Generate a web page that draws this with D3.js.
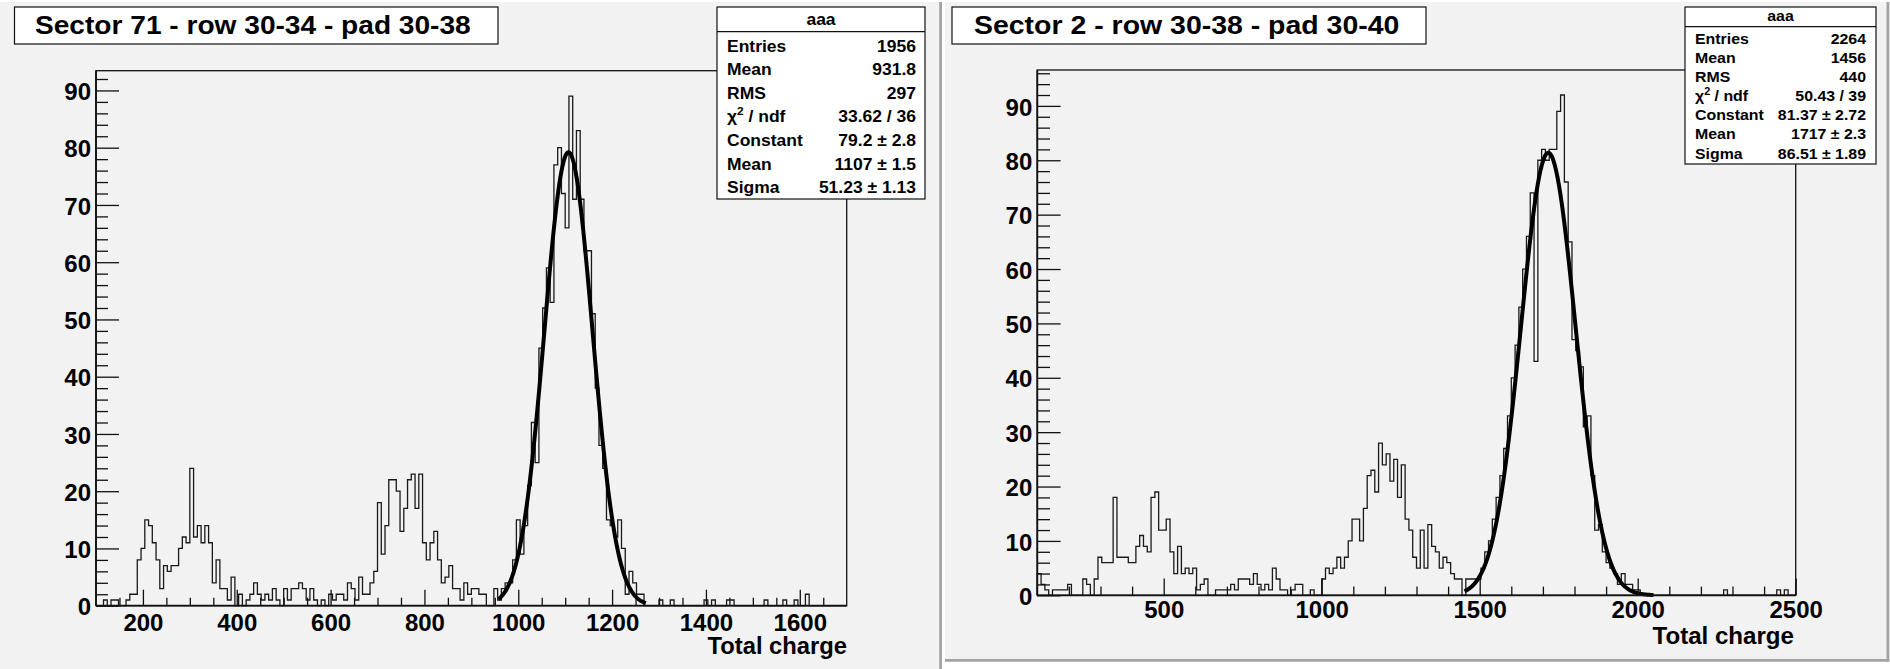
<!DOCTYPE html>
<html>
<head>
<meta charset="utf-8">
<script src="https://cdn.jsdelivr.net/npm/d3@7/dist/d3.min.js"></script>
<style>
  html, body { margin: 0; padding: 0; background: #ffffff; }
  svg { display: block; }
  text { font-family: "Liberation Sans", Arial, Helvetica, sans-serif; font-weight: bold; fill: #000; }
</style>
</head>
<body>
<svg id="canvas" width="1890" height="669"></svg>
<script>
// ---------------- data ----------------
const leftTitle = "Sector 71 - row 30-34 - pad 30-38";
const rightTitle = "Sector 2 - row 30-38 - pad 30-40";
const xAxisTitle = "Total charge";
const statsName = "aaa";

// histogram ranges (low edge, high edge) and bin counts
const leftRange = [100, 1700];   // 200 bins of 8
const rightRange = [100, 2500];  // 200 bins of 12

const leftCounts = [
  0, 0, 1, 0, 1, 1, 0, 0, 1, 2,
  2, 8, 10, 15, 14, 11, 8, 3, 7, 6,
  7, 7, 10, 12, 11, 24, 12, 14, 11, 14,
  11, 4, 8, 3, 3, 1, 5, 0, 2, 0,
  1, 2, 4, 2, 1, 2, 1, 3, 1, 0,
  3, 1, 3, 3, 4, 3, 1, 3, 1, 0,
  1, 0, 2, 1, 2, 2, 1, 4, 3, 1,
  5, 2, 2, 4, 6, 18, 9, 14, 22, 22,
  20, 13, 17, 22, 23, 17, 23, 11, 8, 11,
  13, 8, 4, 5, 7, 3, 3, 1, 4, 2,
  3, 3, 2, 2, 0, 0, 3, 1, 3, 4,
  4, 8, 15, 9, 14, 21, 32, 25, 45, 52,
  59, 53, 77, 80, 72, 66, 89, 71, 83, 71,
  62, 62, 51, 38, 28, 24, 15, 14, 12, 15,
  10, 2, 6, 4, 2, 2, 0, 0, 0, 0,
  1, 0, 0, 1, 0, 0, 0, 0, 0, 0,
  0, 0, 1, 0, 1, 0, 0, 0, 1, 1,
  0, 0, 0, 0, 0, 0, 0, 0, 1, 0,
  0, 0, 0, 1, 0, 0, 1, 0, 0, 2,
  0, 0, 0, 0, 0, 0, 0, 0, 0, 0
];

const rightCounts = [
  4, 2, 1, 0, 1, 1, 1, 1, 2, 0,
  0, 0, 3, 2, 0, 3, 7, 6, 6, 6,
  18, 7, 7, 7, 6, 6, 9, 11, 9, 8,
  18, 19, 12, 12, 14, 8, 4, 9, 4, 5,
  4, 5, 1, 2, 3, 0, 0, 1, 1, 1,
  1, 2, 1, 3, 3, 3, 2, 4, 2, 1,
  2, 1, 5, 3, 1, 1, 0, 1, 2, 2,
  0, 0, 1, 0, 0, 3, 5, 4, 5, 7,
  5, 7, 10, 14, 14, 10, 16, 22, 23, 19,
  28, 24, 26, 21, 25, 18, 24, 14, 12, 7,
  5, 12, 5, 13, 9, 8, 5, 7, 6, 4,
  3, 3, 0, 3, 3, 3, 3, 5, 8, 10,
  14, 18, 22, 27, 33, 40, 46, 53, 60, 66,
  74, 43, 80, 82, 80, 82, 82, 89, 92, 76,
  65, 47, 45, 42, 31, 33, 22, 12, 13, 8,
  6, 5, 4, 2, 4, 2, 2, 1, 1, 0,
  0, 0, 0, 0, 0, 0, 0, 0, 0, 0,
  0, 0, 0, 0, 0, 0, 0, 0, 0, 0,
  0, 1, 0, 0, 0, 0, 0, 0, 0, 0,
  0, 0, 0, 0, 0, 1, 0, 1, 0, 0
];

// axis tick values
const leftXMajor = [200, 400, 600, 800, 1000, 1200, 1400, 1600];
const rightXMajor = [500, 1000, 1500, 2000, 2500];
const yMajor = [0, 10, 20, 30, 40, 50, 60, 70, 80, 90];

// statistics box
const statLabels = ["Entries", "Mean", "RMS", "chi2", "Constant", "Mean", "Sigma"];
const leftStatValues = ["1956", "931.8", "297", "33.62 / 36", "79.2 \u00b1 2.8", "1107 \u00b1 1.5", "51.23 \u00b1 1.13"];
const rightStatValues = ["2264", "1456", "440", "50.43 / 39", "81.37 \u00b1 2.72", "1717 \u00b1 2.3", "86.51 \u00b1 1.89"];

// gaussian fit: [constant, mean, sigma] and fitted range
const leftFitParams = [79.2, 1107, 51.23];
const leftFitRange = [958, 1272];
const rightFitParams = [81.37, 1717, 86.51];
const rightFitRange = [1452, 2050];

// ---------------- layout ----------------
const panels = [
  {
    counts: leftCounts, range: leftRange, xMajor: leftXMajor, xMinorStep: 50,
    title: leftTitle, stats: leftStatValues, fit: leftFitParams, fitRange: leftFitRange,
    pad: { x: 0, y: 2, w: 942, h: 680, bottomEdge: false },
    frame: { x0: 96, x1: 846.7, y0: 70.7, y1: 605.7 },
    titleBox: { x: 14.5, y: 7, w: 483.5, h: 37, tx: 35, tw: 436, base: 33.5, fs: 26 },
    statBox: { x: 717, y: 7, w: 208, h: 192, sep: 31.7, nameBase: 25, fs: 16.5, sx: 1.06,
               rowBase: 51.5, rowStep: 23.6, lx: 727, vx: 916 },
    xLabelPad: 8, xTitle: { x: 847, base: 653.5, w: 139.5 },
    tickLen: { yMaj: 23, yMin: 12, xMaj: 16, xMin: 8 }
  },
  {
    counts: rightCounts, range: rightRange, xMajor: rightXMajor, xMinorStep: 100,
    title: rightTitle, stats: rightStatValues, fit: rightFitParams, fitRange: rightFitRange,
    pad: { x: 945, y: 2, w: 944.3, h: 659.7, bottomEdge: true },
    frame: { x0: 1037.3, x1: 1795.7, y0: 70, y1: 595.3 },
    titleBox: { x: 952, y: 7, w: 474, h: 37, tx: 974, tw: 425.5, base: 33.5, fs: 26 },
    statBox: { x: 1685, y: 7, w: 191, h: 157, sep: 26.7, nameBase: 21, fs: 15, sx: 1.06,
               rowBase: 43.5, rowStep: 19.17, lx: 1695, vx: 1866 },
    xLabelPad: 6, xTitle: { x: 1794, base: 644, w: 141.6 },
    tickLen: { yMaj: 23.3, yMin: 12.7, xMaj: 16.7, xMin: 8.7 }
  }
];

const svg = d3.select("#canvas");
const TICK_FS = 24;

// text scaled horizontally inside a translated group
function stretchedText(parent, x, y, str, fs, anchor, sx) {
  const g = parent.append("g").attr("transform", `translate(${x},${y}) scale(${sx},1)`);
  return g.append("text").attr("x", 0).attr("y", 0)
    .attr("font-size", fs).attr("text-anchor", anchor).text(str);
}

function fittedText(parent, x, y, str, fs, width, anchor) {
  const g = parent.append("g");
  const t = g.append("text").attr("font-size", fs).attr("text-anchor", anchor || "start").text(str);
  const w = t.node().getComputedTextLength();
  const sx = w > 0 ? width / w : 1;
  g.attr("transform", `translate(${x},${y}) scale(${sx},1)`);
  return t;
}

panels.forEach(p => {
  const root = svg.append("g");

  // pad background with dark bevel on the right (and bottom when visible)
  root.append("rect").attr("x", p.pad.x).attr("y", p.pad.y)
    .attr("width", p.pad.w).attr("height", p.pad.h).attr("fill", "#f2f2f2");
  root.append("line").attr("x1", p.pad.x + p.pad.w - 1.4).attr("x2", p.pad.x + p.pad.w - 1.4)
    .attr("y1", p.pad.y).attr("y2", p.pad.y + p.pad.h)
    .attr("stroke", "#a3a3a3").attr("stroke-width", 2.8);
  if (p.pad.bottomEdge) {
    root.append("line").attr("x1", p.pad.x).attr("x2", p.pad.x + p.pad.w)
      .attr("y1", p.pad.y + p.pad.h - 1.4).attr("y2", p.pad.y + p.pad.h - 1.4)
      .attr("stroke", "#a3a3a3").attr("stroke-width", 2.8);
  }

  const nb = p.counts.length;
  const bw = (p.range[1] - p.range[0]) / nb;
  const ymax = d3.max(p.counts) * 1.05;

  const x = d3.scaleLinear().domain(p.range).range([p.frame.x0, p.frame.x1]);
  const y = d3.scaleLinear().domain([0, ymax]).range([p.frame.y1, p.frame.y0]);

  // frame (top and right edges thin)
  root.append("rect").attr("x", p.frame.x0).attr("y", p.frame.y0)
    .attr("width", p.frame.x1 - p.frame.x0).attr("height", p.frame.y1 - p.frame.y0)
    .attr("fill", "none").attr("stroke", "#111").attr("stroke-width", 1.3);

  // histogram outline
  let d = `M${x(p.range[0])},${y(0)}`;
  p.counts.forEach((c, i) => {
    d += `V${y(c)}H${x(p.range[0] + (i + 1) * bw)}`;
  });
  d += `V${y(0)}`;
  root.append("path").attr("d", d).attr("fill", "none")
    .attr("stroke", "#1a1a1a").attr("stroke-width", 1.3).attr("stroke-linejoin", "miter");

  // gaussian fit curve
  const [cst, mu, sg] = p.fit;
  const pts = d3.range(p.fitRange[0], p.fitRange[1] + 0.001, 1);
  const line = d3.line().x(v => x(v)).y(v => y(cst * Math.exp(-0.5 * ((v - mu) / sg) ** 2)));
  root.append("path").attr("d", line(pts)).attr("fill", "none")
    .attr("stroke", "#000").attr("stroke-width", 4).attr("stroke-linejoin", "round");

  // y axis: major ticks with labels, minor ticks every 2
  const yMinor = d3.range(0, ymax, 2).filter(v => v % 10 !== 0);
  const yAxisMaj = d3.axisLeft(y).tickValues(yMajor).tickSize(-p.tickLen.yMaj).tickPadding(5)
    .tickFormat(d3.format("d"));
  const yAxisMin = d3.axisLeft(y).tickValues(yMinor).tickSize(-p.tickLen.yMin).tickFormat("");
  const gyMin = root.append("g").attr("transform", `translate(${p.frame.x0},0)`).call(yAxisMin);
  const gyMaj = root.append("g").attr("transform", `translate(${p.frame.x0},0)`).call(yAxisMaj);

  // x axis: major ticks with labels, minor ticks
  const xMinor = d3.range(p.range[0], p.range[1] + 0.001, p.xMinorStep)
    .filter(v => !p.xMajor.includes(v) && v > p.range[0] && v < p.range[1]);
  const xAxisMaj = d3.axisBottom(x).tickValues(p.xMajor).tickSize(-p.tickLen.xMaj)
    .tickPadding(p.xLabelPad).tickFormat(d3.format("d"));
  const xAxisMin = d3.axisBottom(x).tickValues(xMinor).tickSize(-p.tickLen.xMin).tickFormat("");
  const gxMin = root.append("g").attr("transform", `translate(0,${p.frame.y1})`).call(xAxisMin);
  const gxMaj = root.append("g").attr("transform", `translate(0,${p.frame.y1})`).call(xAxisMaj);

  [gyMin, gyMaj, gxMin, gxMaj].forEach(g => {
    g.select(".domain").remove();
    g.selectAll(".tick line").attr("stroke", "#111").attr("stroke-width", 1.3);
    g.selectAll(".tick text").attr("font-size", TICK_FS)
      .attr("font-family", '"Liberation Sans", Arial, sans-serif').attr("font-weight", "bold").attr("fill", "#000");
  });
  gyMaj.selectAll(".tick text").attr("dy", "0.38em");

  // thick axis lines on left and bottom
  root.append("line").attr("x1", p.frame.x0).attr("x2", p.frame.x0)
    .attr("y1", p.frame.y0).attr("y2", p.frame.y1).attr("stroke", "#111").attr("stroke-width", 1.8);
  root.append("line").attr("x1", p.frame.x0).attr("x2", p.frame.x1)
    .attr("y1", p.frame.y1).attr("y2", p.frame.y1).attr("stroke", "#111").attr("stroke-width", 1.8);

  // x axis title, right aligned at frame edge
  fittedText(root, p.xTitle.x, p.xTitle.base, xAxisTitle, 23, p.xTitle.w, "end");

  // title box
  const tb = p.titleBox;
  root.append("rect").attr("x", tb.x).attr("y", tb.y).attr("width", tb.w).attr("height", tb.h)
    .attr("fill", "#fff").attr("stroke", "#111").attr("stroke-width", 1.2);
  fittedText(root, tb.tx, tb.base, p.title, tb.fs, tb.tw);

  // statistics box
  const sb = p.statBox;
  root.append("rect").attr("x", sb.x).attr("y", sb.y).attr("width", sb.w).attr("height", sb.h)
    .attr("fill", "#fff").attr("stroke", "#111").attr("stroke-width", 1.2);
  root.append("line").attr("x1", sb.x).attr("x2", sb.x + sb.w).attr("y1", sb.sep).attr("y2", sb.sep)
    .attr("stroke", "#111").attr("stroke-width", 1.2);
  stretchedText(root, sb.x + sb.w / 2, sb.nameBase, statsName, sb.fs, "middle", sb.sx);
  statLabels.forEach((lab, k) => {
    const base = sb.rowBase + k * sb.rowStep;
    if (lab === "chi2") {
      const t = stretchedText(root, sb.lx, base, "", sb.fs, "start", sb.sx);
      t.append("tspan").text("\u03c7");
      t.append("tspan").attr("font-size", sb.fs * 0.68).attr("dy", -sb.fs * 0.42).text("2");
      t.append("tspan").attr("dy", sb.fs * 0.42).text(" / ndf");
    } else {
      stretchedText(root, sb.lx, base, lab, sb.fs, "start", sb.sx);
    }
    stretchedText(root, sb.vx, base, p.stats[k], sb.fs, "end", sb.sx);
  });
});
</script>
</body>
</html>
